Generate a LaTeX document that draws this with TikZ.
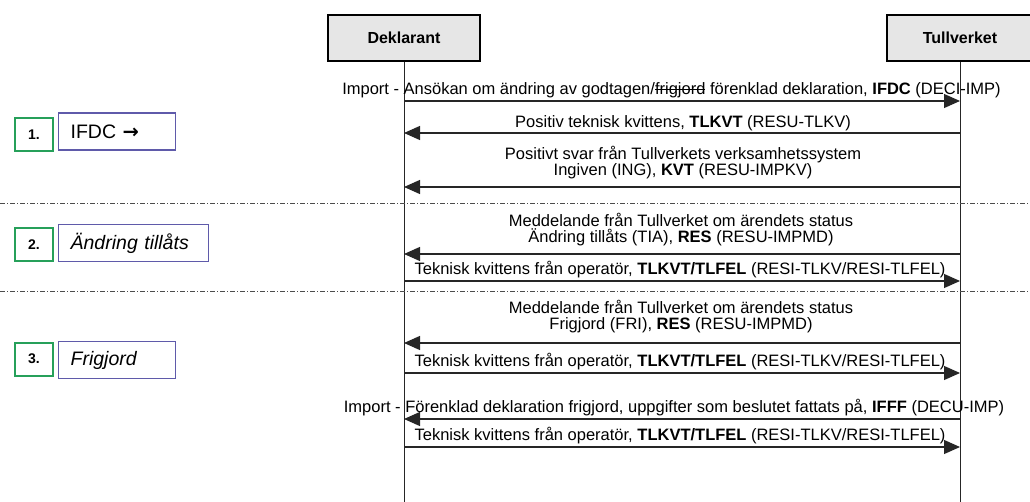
\documentclass[tikz,border=0pt]{standalone}
\usepackage{fontspec}
\setmainfont{Liberation Sans}
\newfontfamily\djv{DejaVu Sans}
\newsavebox\strkbox
\newcommand\mystrike[1]{\sbox\strkbox{#1}\rlap{\rule[0.3em]{\wd\strkbox}{0.07em}}\usebox\strkbox}
\usetikzlibrary{arrows.meta}
\definecolor{stepgreen}{RGB}{38,160,90}
\definecolor{titleblue}{RGB}{95,90,170}
\definecolor{headfill}{RGB}{230,230,230}
\tikzset{
  every node/.style={inner sep=0pt},
  head/.style={draw=black, line width=2pt, fill=headfill, font=\fontsize{16}{18}\selectfont\bfseries, minimum height=46pt},
  life/.style={line width=1pt, draw=black!85},
  msg/.style={line width=1.2pt, draw=black!85, -{Triangle[length=16pt,width=14pt]}},
  lbl/.style={font=\fontsize{16.5}{16.5}\selectfont, anchor=base, align=center},
  sep/.style={line width=1pt, draw=black!70, dash pattern=on 5pt off 2pt on 1pt off 2pt},
  numbox/.style={draw=stepgreen, line width=2pt, minimum width=38pt, minimum height=33pt, font=\fontsize{14}{16}\selectfont\bfseries},
  titlebox/.style={draw=titleblue, line width=1.3pt, minimum height=37pt, inner xsep=12pt, align=left, font=\fontsize{19.5}{21}\selectfont, anchor=west},
}
\begin{document}
\begin{tikzpicture}[x=1pt,y=-1pt]
\useasboundingbox (0,0) rectangle (1030,502);
% headers
\node[head, minimum width=152pt] (dek) at (404,38) {Deklarant};
\node[head, minimum width=146pt] (tul) at (960,38) {Tullverket};
\coordinate (dekend) at (404,502);
\coordinate (tulend) at (960,502);
\draw[life] (dek.south) -- (dekend);
\draw[life] (tul.south) -- (tulend);
% separators
\coordinate (s1a) at (0,204); \coordinate (s1b) at (1030,204);
\coordinate (s2a) at (0,292); \coordinate (s2b) at (1030,292);
\draw[sep] (s1a) -- (s1b);
\draw[sep] (s2a) -- (s2b);
% arrow endpoints
\foreach \n/\y in {1/101,2/133,3/187,4/254,5/281,6/343,7/373,8/419,9/447}{
  \coordinate (d\n) at (404,\y);
  \coordinate (t\n) at (960,\y);
}
% messages
\node[lbl] (m1) at (671.5,95) {Import - Ansökan om ändring av godtagen/\mystrike{frigjord} förenklad deklaration, \textbf{IFDC} (DECI-IMP)};
\draw[msg] (d1) -- (t1);
\node[lbl] (m2) at (683,128) {Positiv teknisk kvittens, \textbf{TLKVT} (RESU-TLKV)};
\draw[msg] (t2) -- (d2);
\node[lbl] (m3) at (683,176) {Positivt svar från Tullverkets verksamhetssystem\\Ingiven (ING), \textbf{KVT} (RESU-IMPKV)};
\draw[msg] (t3) -- (d3);
\node[lbl] (m4) at (681,243) {Meddelande från Tullverket om ärendets status\\Ändring tillåts (TIA), \textbf{RES} (RESU-IMPMD)};
\draw[msg] (t4) -- (d4);
\node[lbl] (m5) at (680,275) {Teknisk kvittens från operatör, \textbf{TLKVT/TLFEL} (RESI-TLKV/RESI-TLFEL)};
\draw[msg] (d5) -- (t5);
\node[lbl] (m6) at (681,330) {Meddelande från Tullverket om ärendets status\\Frigjord (FRI), \textbf{RES} (RESU-IMPMD)};
\draw[msg] (t6) -- (d6);
\node[lbl] (m7) at (680,366) {Teknisk kvittens från operatör, \textbf{TLKVT/TLFEL} (RESI-TLKV/RESI-TLFEL)};
\draw[msg] (d7) -- (t7);
\node[lbl] (m8) at (674,412) {Import - Förenklad deklaration frigjord, uppgifter som beslutet fattats på, \textbf{IFFF} (DECU-IMP)};
\draw[msg] (t8) -- (d8);
\node[lbl] (m9) at (680,440) {Teknisk kvittens från operatör, \textbf{TLKVT/TLFEL} (RESI-TLKV/RESI-TLFEL)};
\draw[msg] (d9) -- (t9);
% step boxes
\node[numbox] (n1) at (34,134.5) {1.};
\node[titlebox, text width=93pt] (b1) at (58,131.5) {IFDC {\djv\bfseries→}};
\node[numbox] (n2) at (34,244.5) {2.};
\node[titlebox, text width=126pt] (b2) at (58,243) {\itshape Ändring tillåts};
\node[numbox] (n3) at (34,359) {3.};
\node[titlebox, text width=93pt] (b3) at (58,360) {\itshape Frigjord};
\end{tikzpicture}
\end{document}
